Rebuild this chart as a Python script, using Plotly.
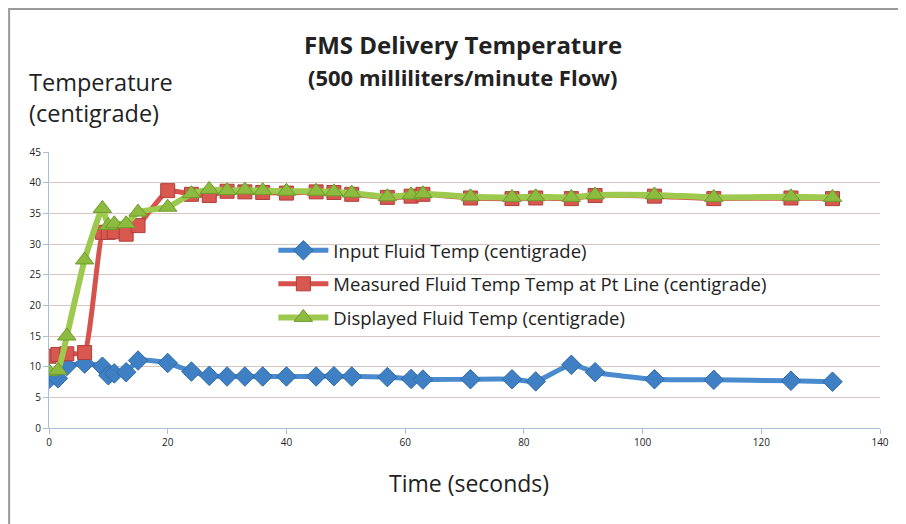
import plotly.graph_objects as go

# ---- data ----
time_s = [0, 1.5, 3, 6, 9, 10, 11, 13, 15, 20, 24, 27, 30, 33, 36, 40, 45, 48, 51,
          57, 61, 63, 71, 78, 82, 88, 92, 102, 112, 125, 132]
input_temp = [8.0, 8.1, 10.1, 10.5, 10.0, 8.6, 8.9, 9.1, 11.0, 10.6, 9.2, 8.5, 8.4, 8.4,
              8.4, 8.4, 8.4, 8.45, 8.4, 8.3, 8.0, 7.9, 7.95, 7.95, 7.6, 10.3, 9.1, 7.95,
              7.85, 7.7, 7.55]
measured_temp = [11.7, 12.0, 12.1, 12.3, 31.9, 31.9, 32.0, 31.6, 33.0, 38.7, 38.1, 37.9,
                 38.6, 38.5, 38.4, 38.3, 38.5, 38.4, 38.1, 37.6, 37.8, 38.1, 37.5, 37.4,
                 37.5, 37.4, 37.9, 37.8, 37.4, 37.5, 37.4]
displayed_temp = [9.2, 9.4, 15.0, 27.4, 35.8, 33.0, 33.3, 33.3, 35.2, 36.0, 38.2, 38.9,
                  38.7, 38.8, 38.7, 38.6, 38.6, 38.5, 38.3, 37.7, 38.0, 38.2, 37.7, 37.6,
                  37.7, 37.6, 38.0, 38.0, 37.6, 37.7, 37.6]
series_names = ["Input Fluid Temp (centigrade)",
                "Measured Fluid Temp Temp at Pt Line (centigrade)",
                "Displayed Fluid Temp (centigrade)"]
x_range = [0, 140]
y_range = [0, 45]

FONT = "Open Sans"
TXT = "#222222"

fig = go.Figure()
fig.add_trace(go.Scatter(
    x=time_s, y=input_temp, name=series_names[0], mode="lines+markers",
    line=dict(color="#4a8bcf", width=5, shape="spline", smoothing=0.6),
    marker=dict(symbol="diamond", size=15, color="#3f80c4",
                line=dict(color="#2f6aa8", width=1)),
    legendgroup="a"))
fig.add_trace(go.Scatter(
    x=time_s, y=measured_temp, name=series_names[1], mode="lines+markers",
    line=dict(color="#d6534d", width=5, shape="spline", smoothing=0.4),
    marker=dict(symbol="square", size=14, color="#d8574f",
                line=dict(color="#b03f3a", width=1)),
    legendgroup="b"))
fig.add_trace(go.Scatter(
    x=time_s, y=displayed_temp, name=series_names[2], mode="lines+markers",
    line=dict(color="#9cc94e", width=6, shape="spline", smoothing=0.4),
    marker=dict(symbol="triangle-up", size=16, color="#8cbb40",
                line=dict(color="#6e9a2c", width=1)),
    legendgroup="c"))

fig.update_layout(
    width=898, height=516,
    margin=dict(l=41, r=26, t=144, b=96),
    paper_bgcolor="white", plot_bgcolor="white",
    font=dict(family=FONT, color=TXT),
    xaxis=dict(range=x_range, tick0=0, dtick=20, showgrid=False, zeroline=False,
               showline=True, linecolor="#a9bfd6", linewidth=1,
               ticks="outside", ticklen=5, tickcolor="#a9bfd6",
               tickfont=dict(size=10, color=TXT, family=FONT)),
    yaxis=dict(range=y_range, tick0=0, dtick=5, showgrid=True, gridcolor="#d9c6c2",
               gridwidth=1, zeroline=False,
               showline=True, linecolor="#a9bfd6", linewidth=1,
               ticks="outside", ticklen=5, tickcolor="#a9bfd6",
               tickfont=dict(size=10, color=TXT, family=FONT)),
    yaxis2=dict(range=y_range, overlaying="y", tick0=10, dtick=15, showgrid=True,
                gridcolor="#b0c9df", gridwidth=1, showticklabels=False, ticks="",
                zeroline=False, showline=False),
    showlegend=True,
    legend=dict(x=0.270, y=0.711, xanchor="left", yanchor="top",
                bgcolor="rgba(0,0,0,0)", font=dict(size=18.5, color=TXT, family=FONT),
                itemwidth=50, tracegroupgap=6.5),
    shapes=[
        dict(type="rect", xref="paper", yref="paper", x0=0.203, x1=0.709, y0=0.30, y1=0.732,
             fillcolor="white", line=dict(width=0), layer="between"),
        dict(type="rect", xref="paper", yref="paper", x0=-0.048, x1=1.2, y0=-0.6, y1=1.518,
             fillcolor="rgba(0,0,0,0)", line=dict(color="#9a9a9a", width=2), layer="above"),
    ],
    annotations=[
        dict(text="<b>FMS Delivery Temperature</b>", xref="paper", yref="paper",
             x=0.498, y=1.388, xanchor="center", yanchor="middle", showarrow=False,
             font=dict(size=24, color=TXT, family=FONT)),
        dict(text="<b>(500 milliliters/minute Flow)</b>", xref="paper", yref="paper",
             x=0.498, y=1.27, xanchor="center", yanchor="middle", showarrow=False,
             font=dict(size=22, color=TXT, family=FONT)),
        dict(text="Temperature<br>(centigrade)", xref="paper", yref="paper",
             x=-0.0265, y=1.197, xanchor="left", yanchor="middle", align="left",
             showarrow=False, font=dict(size=23.5, color=TXT, family=FONT)),
        dict(text="Time (seconds)", xref="paper", yref="paper",
             x=0.505, y=-0.200, xanchor="center", yanchor="middle", showarrow=False,
             font=dict(size=23, color=TXT, family=FONT)),
    ],
)

fig.write_html("out.html")
